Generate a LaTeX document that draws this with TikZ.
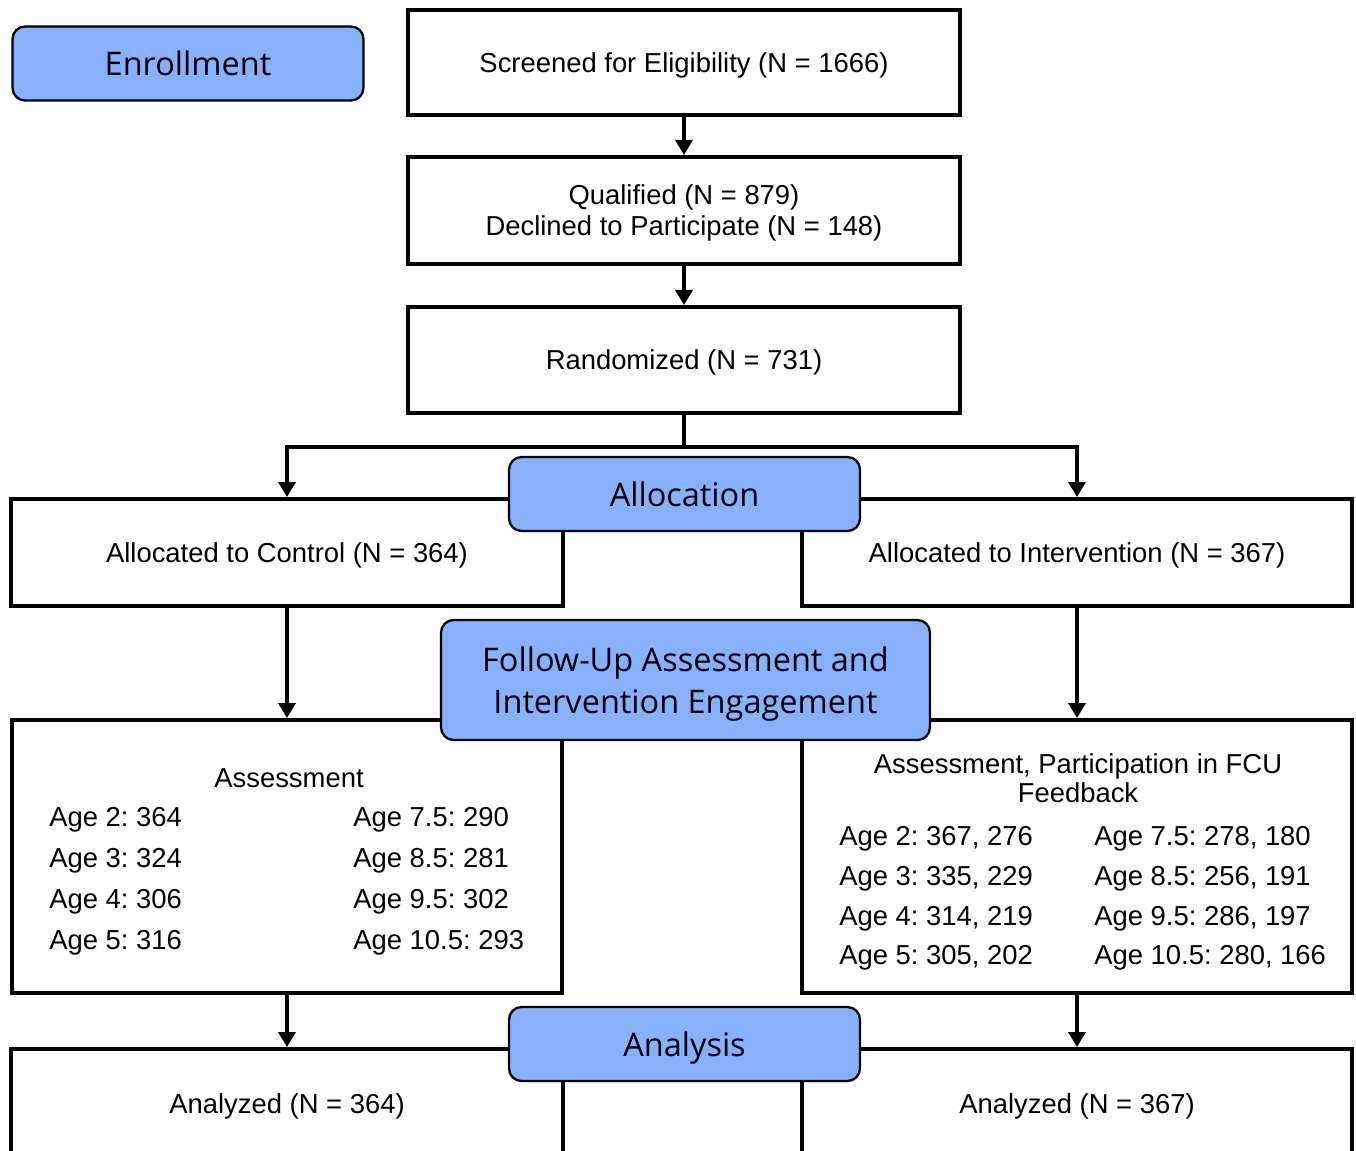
\documentclass[tikz,border=0pt]{standalone}
\usepackage{fontspec}
\setmainfont{Liberation Sans}
\newfontfamily\stagefont{Open Sans}
\usepackage{xcolor}
\usepackage{tikz}
\usetikzlibrary{arrows.meta, positioning}

\definecolor{stageblue}{RGB}{135,176,255}

\tikzset{
    box/.style={draw, line width=2.3pt, fill=white, align=center, inner sep=0pt,
        text depth=0pt, font=\fontsize{15.6}{17.6}\selectfont},
    stage/.style={draw, line width=1.3pt, fill=stageblue, rounded corners=0.25cm,
        minimum width=7.02cm, minimum height=1.48cm, align=center, inner sep=0pt,
        text depth=0pt, font=\stagefont\fontsize{18.5}{23.8}\selectfont},
    flow/.style={line width=2pt, -{Triangle[length=3mm, width=3.4mm]}},
    head/.style={align=center, inner sep=0pt, font=\fontsize{15.6}{16.5}\selectfont},
    agetext/.style={anchor=west, inner sep=0pt, font=\fontsize{15.6}{18}\selectfont}
}

\begin{document}
\frenchspacing
\begin{tikzpicture}[x=0.02cm, y=-0.02cm]
    \useasboundingbox (0,0) rectangle (1356,1150);
    \clip (0,0) rectangle (1356,1150);

    % Các khung ở giữa
    \node[box, minimum width=11.04cm, minimum height=2.1cm] (screen) at (684,62.5) {Screened for Eligibility (N = 1666)};
    \node[box, minimum width=11.04cm, minimum height=2.14cm] (qual) at (684,210.5) {Qualified (N = 879)\\Declined to Participate (N = 148)};
    \node[box, minimum width=11.04cm, minimum height=2.12cm] (rand) at (684,360) {Randomized (N = 731)};

    % Hai nhánh
    \node[box, minimum width=11.06cm, minimum height=2.14cm] (ctrl) at (287,552.5) {Allocated to Control (N = 364)};
    \node[box, minimum width=11cm, minimum height=2.14cm] (interv) at (1077,552.5) {Allocated to Intervention (N = 367)};
    \node[box, minimum width=11.02cm, minimum height=5.46cm] (assessC) at (287,856.5) {};
    \node[box, minimum width=11cm, minimum height=5.46cm] (assessI) at (1077,856.5) {};
    \node[box, minimum width=11.06cm, minimum height=2.2cm] (anaC) at (287,1104) {Analyzed (N = 364)};
    \node[box, minimum width=11cm, minimum height=2.2cm] (anaI) at (1077,1104) {Analyzed (N = 367)};

    % Nội dung đánh giá
    \node[head] (titleC) at (289,778) {Assessment};
    \foreach \a/\b [count=\i] in {{Age 2: 364}/{Age 7.5: 290}, {Age 3: 324}/{Age 8.5: 281},
        {Age 4: 306}/{Age 9.5: 302}, {Age 5: 316}/{Age 10.5: 293}} {
        \node[agetext] (ageCL\i) at (49,{820+41*(\i-1)}) {\a};
        \node[agetext] (ageCR\i) at (353,{820+41*(\i-1)}) {\b};
    }
    \node[head] (titleI) at (1078,778) {Assessment, Participation in FCU\\Feedback};
    \foreach \a/\b [count=\i] in {{Age 2: 367, 276}/{Age 7.5: 278, 180}, {Age 3: 335, 229}/{Age 8.5: 256, 191},
        {Age 4: 314, 219}/{Age 9.5: 286, 197}, {Age 5: 305, 202}/{Age 10.5: 280, 166}} {
        \node[agetext] (ageIL\i) at (839,{839+39.7*(\i-1)}) {\a};
        \node[agetext] (ageIR\i) at (1094,{839+39.7*(\i-1)}) {\b};
    }

    % Các mũi tên
    \draw[flow] (screen) -- (qual);
    \draw[flow] (qual) -- (rand);
    \draw[line width=2pt] (rand.south) -- ++(0,32) coordinate (split);
    \draw[flow] (split) -| (ctrl.north);
    \draw[flow] (split) -| (interv.north);
    \draw[flow] (ctrl) -- (assessC);
    \draw[flow] (interv) -- (assessI);
    \draw[flow] (assessC) -- (anaC);
    \draw[flow] (assessI) -- (anaI);

    % Các giai đoạn
    \node[stage] (enroll) at (188,63.5) {Enrollment};
    \node[stage] (alloc) at (684.5,494) {Allocation};
    \node[stage, minimum width=9.78cm, minimum height=2.4cm] (follow) at (685.5,680) {Follow-Up Assessment and\\Intervention Engagement};
    \node[stage] (analysis) at (684.5,1044) {Analysis};
\end{tikzpicture}
\end{document}
